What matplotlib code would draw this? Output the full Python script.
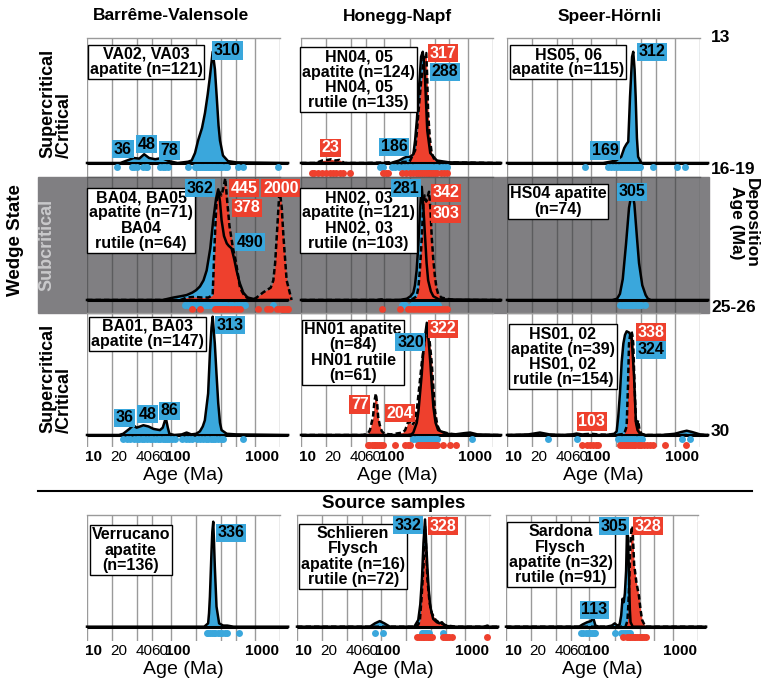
import matplotlib
matplotlib.use("Agg")
import matplotlib.pyplot as plt
import matplotlib.ticker as mticker
import matplotlib.transforms as mtransforms
from matplotlib.patches import Rectangle
from matplotlib.lines import Line2D

plt.rcParams['font.family'] = ['Liberation Sans', 'DejaVu Sans']

# ---------------- data ----------------
# ages in Ma, densities scaled so the panel top is 1.0

# Barreme-Valensole, VA02/VA03 apatite
va_ap_age = [10, 25, 30, 36, 42, 48, 55, 65, 78, 95, 120, 160, 177, 194, 211, 235, 255, 275, 292, 315,
             335, 352, 370, 385, 418, 480, 600, 2500]
va_ap_dens = [0, 0, 0.02, 0.04, 0.035, 0.07, 0.04, 0.03, 0.04, 0.015, 0, 0.01, 0.02, 0.08, 0.18, 0.28,
              0.4, 0.55, 0.69, 0.89, 0.75, 0.53, 0.3, 0.18, 0.06, 0.015, 0.005, 0]
va_ap_grains = [22.6, 34, 36, 39, 47, 50, 52, 74, 80, 86, 93, 161, 194, 205, 215, 225, 235, 245, 255, 265,
                275, 285, 295, 305, 315, 325, 335, 350, 370, 390, 410, 440, 462, 636, 730, 1905]
va_peaks = [('36', 'ap'), ('48', 'ap'), ('78', 'ap'), ('310', 'ap')]

# Honegg-Napf, HN04/05
hn45_ap_age = [10, 120, 150, 170, 186, 205, 222, 233, 245, 255, 275, 288, 298, 307, 326, 354, 424, 600, 2500]
hn45_ap_dens = [0, 0, 0.02, 0.04, 0.05, 0.05, 0.07, 0.18, 0.35, 0.53, 0.85, 0.89, 0.8, 0.66, 0.26, 0.08,
                0.02, 0.005, 0]
hn45_ru_age = [10, 15, 18, 21, 23, 26, 29, 33, 60, 200, 233, 245, 255, 275, 295, 307, 317, 325, 334, 350,
               368, 400, 500, 2500]
hn45_ru_dens = [0, 0, 0.02, 0.025, 0.03, 0.02, 0.025, 0, 0, 0.01, 0.1, 0.25, 0.4, 0.65, 0.82, 0.87, 0.88,
                0.7, 0.4, 0.2, 0.08, 0.02, 0.005, 0]
hn45_ap_grains = [88, 96, 122, 135, 150, 165, 180, 195, 210, 225, 240, 255, 270, 285, 300, 315, 330, 350,
                  375, 400, 430, 470, 520, 558]
hn45_ru_grains = [13.4, 14.5, 16, 17.7, 20, 22, 24, 26.5, 29, 32, 38.7, 96, 104, 111, 161, 180, 200, 220,
                  240, 255, 270, 285, 300, 315, 330, 345, 360, 380, 400, 430, 470, 520, 558]
hn45_peaks = [('317', 'ru'), ('288', 'ap'), ('23', 'ru'), ('186', 'ap')]

# Speer-Hoernli, HS05/06
hs56_ap_age = [10, 140, 169, 200, 230, 250, 265, 279, 293, 310, 320, 332, 342, 354, 366, 400, 2500]
hs56_ap_dens = [0, 0, 0.01, 0.02, 0.05, 0.12, 0.15, 0.17, 0.53, 0.85, 0.89, 0.75, 0.53, 0.2, 0.05, 0, 0]
hs56_ap_grains = [85, 161, 175, 190, 205, 220, 235, 250, 265, 280, 295, 310, 325, 340, 355, 370, 385,
                  555, 1053, 1324]
hs56_peaks = [('312', 'ap'), ('169', 'ap')]

# Barreme-Valensole, BA04/05
ba45_ap_age = [10, 80, 107, 130, 154, 180, 200, 222, 245, 267, 295, 320, 345, 367, 385, 402, 430, 464,
               490, 529, 570, 607, 660, 730, 820, 950, 1100, 2500]
ba45_ap_dens = [0, 0, 0.02, 0.03, 0.04, 0.06, 0.08, 0.11, 0.16, 0.24, 0.42, 0.65, 0.82, 0.9, 0.8, 0.65,
                0.52, 0.46, 0.44, 0.42, 0.33, 0.24, 0.14, 0.06, 0.02, 0.01, 0, 0]
ba45_ru_age = [10, 130, 154, 190, 236, 280, 315, 334, 350, 365, 378, 400, 420, 445, 470, 500, 550, 600,
               667, 730, 800, 900, 1000, 1100, 1250, 1387, 1550, 1666, 1750, 1831, 1956, 2000, 2100, 2197,
               2400, 2750]
ba45_ru_dens = [0, 0, 0.02, 0.025, 0.02, 0.02, 0.04, 0.5, 0.8, 0.85, 0.88, 0.85, 0.9, 0.99, 0.8, 0.6,
                0.42, 0.3, 0.1, 0.05, 0.02, 0.01, 0.01, 0.03, 0.06, 0.08, 0.1, 0.16, 0.3, 0.52, 0.85, 0.87,
                0.75, 0.52, 0.16, 0]
ba45_ap_grains = [147, 160, 175, 190, 205, 220, 235, 250, 265, 280, 300, 320, 340, 360, 380, 400, 430,
                  460, 500, 540, 590, 650, 700, 760, 1666]
ba45_ru_grains = [177, 222, 334, 350, 370, 390, 410, 430, 450, 480, 520, 560, 610, 667, 1102, 1387, 1527,
                  1831, 1950, 2100, 2250, 2400, 2510]
ba45_peaks = [('362', 'ap'), ('445', 'ru'), ('378', 'ru'), ('2000', 'ru'), ('490', 'ap')]

# Honegg-Napf, HN02/03
hn23_ap_age = [10, 150, 185, 205, 222, 232, 243, 255, 268, 280, 293, 307, 320, 334, 360, 386, 450, 2500]
hn23_ap_dens = [0, 0, 0.01, 0.03, 0.06, 0.12, 0.24, 0.45, 0.75, 0.92, 0.75, 0.51, 0.3, 0.16, 0.07, 0.03,
                0.005, 0]
hn23_ru_age = [10, 80, 92, 100, 150, 220, 243, 255, 266, 280, 292, 303, 317, 330, 342, 355, 369, 385, 403,
               420, 440, 480, 557, 700, 2500]
hn23_ru_dens = [0, 0, 0.005, 0, 0, 0.01, 0.03, 0.1, 0.24, 0.5, 0.78, 0.85, 0.8, 0.84, 0.88, 0.75, 0.51,
                0.33, 0.19, 0.1, 0.05, 0.02, 0.01, 0, 0]
hn23_ap_grains = [161, 170, 177, 213, 225, 240, 255, 270, 285, 300, 315, 330, 350, 370, 395, 420, 440]
hn23_ru_grains = [92.8, 154, 193, 205, 220, 235, 250, 265, 280, 295, 310, 325, 340, 360, 380, 400, 425,
                  450, 480, 520, 558]
hn23_peaks = [('281', 'ap'), ('342', 'ru'), ('303', 'ru')]

# Speer-Hoernli, HS04
hs4_ap_age = [10, 180, 205, 222, 240, 262, 285, 309, 330, 355, 375, 410, 450, 479, 520, 2500]
hs4_ap_dens = [0, 0, 0.01, 0.05, 0.17, 0.45, 0.75, 0.88, 0.78, 0.5, 0.3, 0.12, 0.04, 0.01, 0, 0]
hs4_ap_grains = [222, 240, 255, 270, 285, 300, 315, 330, 350, 370, 400, 440]
hs4_peaks = [('305', 'ap')]

# Barreme-Valensole, BA01/03
ba13_ap_age = [10, 24, 27, 32, 35.7, 39, 43, 47, 54, 62, 74, 80, 87, 92, 96, 110, 135, 154, 175, 200, 222,
               240, 254, 278, 292, 305, 315, 334, 350, 367, 385, 402, 464, 600, 2500]
ba13_ap_dens = [0, 0, 0.01, 0.05, 0.08, 0.06, 0.07, 0.08, 0.07, 0.05, 0.04, 0.06, 0.14, 0.06, 0.01, 0,
                0.005, 0.02, 0.005, 0.01, 0.03, 0.07, 0.12, 0.34, 0.67, 0.88, 0.97, 0.75, 0.5, 0.26, 0.1,
                0.04, 0.01, 0.005, 0]
ba13_ap_grains = [27, 30, 33, 36, 39, 42, 45, 48, 52, 56, 60, 65, 70, 75, 80, 85, 90, 96, 104, 112, 134,
                  150, 165, 177, 203, 220, 240, 260, 280, 300, 320, 340, 365, 395, 423, 730]
ba13_peaks = [('313', 'ap'), ('36', 'ap'), ('48', 'ap'), ('86', 'ap')]

# Honegg-Napf, HN01
hn1_ap_age = [10, 190, 210, 222, 244, 256, 267, 280, 292, 308, 322, 338, 355, 370, 386, 410, 440, 557,
              700, 900, 1063, 1300, 2500]
hn1_ap_dens = [0, 0, 0.005, 0.02, 0.1, 0.2, 0.34, 0.5, 0.68, 0.82, 0.92, 0.78, 0.59, 0.4, 0.23, 0.1, 0.04,
               0.01, 0.005, 0.015, 0.02, 0.005, 0]
hn1_ru_age = [10, 55, 63, 67, 73, 76, 79, 82, 84, 88, 93, 100, 120, 165, 177, 193, 204, 213, 225, 244,
              262, 280, 307, 322, 334, 350, 369, 385, 403, 430, 465, 610, 900, 2500]
hn1_ru_dens = [0, 0, 0.01, 0.04, 0.15, 0.28, 0.34, 0.25, 0.15, 0.08, 0.03, 0.01, 0.005, 0.02, 0.04, 0.11,
               0.1, 0.08, 0.1, 0.2, 0.4, 0.59, 0.8, 0.86, 0.87, 0.75, 0.59, 0.4, 0.2, 0.08, 0.03, 0.01, 0, 0]
hn1_ap_grains = [222, 240, 255, 270, 285, 300, 315, 330, 345, 360, 380, 400, 424, 1113]
hn1_ru_grains = [63, 66, 70, 74, 78, 82, 86, 90, 97, 134, 177, 190, 202, 255, 270, 285, 300, 315, 330,
                 345, 365, 385, 405, 424, 509, 610, 730]
hn1_peaks = [('322', 'ru'), ('320', 'ap'), ('77', 'ru'), ('204', 'ru')]

# Speer-Hoernli, HS01/02
hs12_ap_age = [10, 18, 24.7, 32, 45, 60, 67.6, 78, 100, 150, 190, 203, 212, 222, 233, 244, 255, 267, 285,
               305, 316, 327, 336, 345, 360, 385, 450, 700, 1000, 1200, 1387, 1600, 2000, 2500]
hs12_ap_dens = [0, 0.005, 0.02, 0.005, 0, 0.005, 0.012, 0.005, 0, 0, 0.01, 0.03, 0.15, 0.34, 0.6, 0.75,
                0.82, 0.85, 0.84, 0.81, 0.65, 0.48, 0.28, 0.1, 0.04, 0.01, 0, 0, 0.01, 0.025, 0.035, 0.025,
                0.005, 0]
hs12_ru_age = [10, 60, 78, 100, 120, 200, 250, 267, 277, 285, 295, 305, 312, 320, 330, 345, 355, 366, 380,
               402, 450, 2500]
hs12_ru_dens = [0, 0, 0.005, 0.01, 0.005, 0, 0.01, 0.07, 0.4, 0.75, 0.83, 0.85, 0.82, 0.75, 0.45, 0.1,
                0.08, 0.12, 0.04, 0.01, 0, 0]
hs12_ap_grains = [31, 67.6, 213, 225, 240, 255, 270, 285, 300, 320, 340, 360, 380, 402, 1212, 1513]
hs12_ru_grains = [77.6, 89, 97, 105, 114, 123, 222, 235, 250, 265, 280, 295, 310, 325, 340, 360, 380, 400,
                  430, 470, 510, 555, 766, 1370]
hs12_peaks = [('338', 'ru'), ('324', 'ap'), ('103', 'ru')]

# Source samples
ver_ap_age = [10, 250, 278, 285, 292, 305, 312, 320, 327, 334, 350, 376, 420, 470, 560, 2500]
ver_ap_dens = [0, 0, 0.03, 0.12, 0.27, 0.67, 0.85, 0.94, 0.75, 0.54, 0.18, 0.03, 0.01, 0.01, 0, 0]
ver_ap_grains = [267, 280, 295, 310, 325, 340, 360, 385, 410, 440, 462, 655]
ver_peaks = [('336', 'ap')]

sch_ap_age = [10, 65, 74, 85, 97, 110, 128, 150, 250, 279, 295, 309, 322, 336, 347, 358, 372, 388, 420,
              464, 500, 534, 580, 700, 2500]
sch_ap_dens = [0, 0, 0, 0.03, 0.05, 0.03, 0, 0, 0, 0.06, 0.2, 0.43, 0.75, 0.96, 0.75, 0.54, 0.33, 0.18,
               0.07, 0.04, 0.03, 0.04, 0.01, 0, 0]
sch_ru_age = [10, 260, 280, 292, 305, 322, 336, 347, 358, 380, 405, 450, 510, 612, 800, 1700, 1860, 2000, 2500]
sch_ru_dens = [0, 0, 0.02, 0.06, 0.25, 0.54, 0.9, 0.7, 0.43, 0.22, 0.12, 0.06, 0.03, 0.01, 0, 0, 0.01, 0, 0]
sch_ap_grains = [85.5, 105.6, 309, 320, 332, 345, 358, 370, 550]
sch_ru_grains = [270, 285, 300, 315, 330, 345, 360, 375, 390, 405, 557, 585, 615, 650, 700, 1850]
sch_peaks = [('332', 'ap'), ('328', 'ru')]

sar_ap_age = [10, 75, 82.7, 94, 104, 111, 118, 130, 160, 185, 201, 215, 230, 240, 249, 258, 266, 275,
              282, 290, 296, 300, 305, 311, 330, 2500]
sar_ap_dens = [0, 0, 0.02, 0.04, 0.05, 0.08, 0.01, 0, 0, 0.01, 0.03, 0.01, 0.02, 0.1, 0.25, 0.22, 0.3,
               0.5, 0.87, 0.8, 0.55, 0.35, 0.15, 0.04, 0, 0]
sar_ru_age = [10, 270, 285, 293, 300, 310, 319, 328, 343, 365, 393, 410, 428, 468, 2500]
sar_ru_dens = [0, 0, 0.05, 0.2, 0.4, 0.75, 0.88, 0.9, 0.56, 0.4, 0.27, 0.15, 0.06, 0, 0]
sar_ap_grains = [79, 84, 90, 96, 102, 108, 113, 118, 201, 236, 250, 265, 280, 295, 310]
sar_ru_grains = [252, 282, 295, 310, 325, 340, 355, 370, 390, 410, 430, 450, 470]
sar_peaks = [('305', 'ap'), ('328', 'ru'), ('113', 'ap')]

grid_ages = [10, 20, 40, 60, 100, 200, 400, 600, 1000, 2000]
tick_ages = [10, 20, 40, 60, 100, 1000]
tick_text = ['10', '20', '40', '60', '100', '1000']

# ---------------- layout ----------------
W, H = 765, 682
BLUE = '#3aa7dc'
RED = '#ee402d'
BAND = '#807f82'

fig = plt.figure(figsize=(W / 100, H / 100), dpi=100)

# rows: top px, bottom px, baseline px, blue dot px, red dot px
rows = [(38, 177, 163, 167, 173), (177, 313, 300, 305, 309),
        (313, 447, 435, 439, 444.5), (515, 641, 626.7, 632.7, 637.3)]
cols_top = [(87, 280), (301, 493), (507, 700)]
cols_bot = [(87, 280), (297, 490), (506, 698)]

# gray band for the subcritical row (behind the axes)
fig.patches.append(Rectangle((38 / W, 1 - 313 / H), (709 - 38) / W, (313 - 177) / H,
                             transform=fig.transFigure, color=BAND, zorder=-10))

panels = [
    dict(r=0, c=0, ap=(va_ap_age, va_ap_dens), ru=None, apg=va_ap_grains, rug=None,
         info='VA02, VA03\napatite (n=121)', ipos=(0.306, 0.827),
         peaks=va_peaks, ppos=[(26.9, 0.11), (50.9, 0.15), (96.7, 0.10), (473, 0.9)]),
    dict(r=0, c=1, ap=(hn45_ap_age, hn45_ap_dens), ru=(hn45_ru_age, hn45_ru_dens),
         apg=hn45_ap_grains, rug=hn45_ru_grains,
         info='HN04, 05\napatite (n=124)\nHN04, 05\nrutile (n=135)', ipos=(0.30, 0.70),
         peaks=hn45_peaks, ppos=[(508, 0.88), (533, 0.73), (22.8, 0.12), (130, 0.13)]),
    dict(r=0, c=2, ap=(hs56_ap_age, hs56_ap_dens), ru=None, apg=hs56_ap_grains, rug=None,
         info='HS05, 06\napatite (n=115)', ipos=(0.318, 0.825),
         peaks=hs56_peaks, ppos=[(530, 0.89), (148, 0.10)]),
    dict(r=1, c=0, ap=(ba45_ap_age, ba45_ap_dens), ru=(ba45_ru_age, ba45_ru_dens),
         apg=ba45_ap_grains, rug=ba45_ru_grains,
         info='BA04, BA05\napatite (n=71)\nBA04\nrutile (n=64)', ipos=(0.281, 0.68),
         peaks=ba45_peaks, ppos=[(222, 0.91), (743, 0.91), (800, 0.75), (2042, 0.91), (869, 0.47)]),
    dict(r=1, c=1, ap=(hn23_ap_age, hn23_ap_dens), ru=(hn23_ru_age, hn23_ru_dens),
         apg=hn23_ap_grains, rug=hn23_ru_grains,
         info='HN02, 03\napatite (n=121)\nHN02, 03\nrutile (n=103)', ipos=(0.30, 0.68),
         peaks=hn23_peaks, ppos=[(183, 0.91), (548, 0.87), (548, 0.70)]),
    dict(r=1, c=2, ap=(hs4_ap_age, hs4_ap_dens), ru=None, apg=hs4_ap_grains, rug=None,
         info='HS04 apatite\n(n=74)', ipos=(0.264, 0.82),
         peaks=hs4_peaks, ppos=[(313, 0.88)]),
    dict(r=2, c=0, ap=(ba13_ap_age, ba13_ap_dens), ru=None, apg=ba13_ap_grains, rug=None,
         info='BA01, BA03\napatite (n=147)', ipos=(0.315, 0.845),
         peaks=ba13_peaks, ppos=[(506, 0.9), (28.1, 0.14), (52.6, 0.17), (96.7, 0.2)]),
    dict(r=2, c=1, ap=(hn1_ap_age, hn1_ap_dens), ru=(hn1_ru_age, hn1_ru_dens),
         apg=hn1_ap_grains, rug=hn1_ru_grains,
         info='HN01 apatite\n(n=84)\nHN01 rutile\n(n=61)', ipos=(0.271, 0.705),
         peaks=hn1_peaks, ppos=[(508, 0.87), (205, 0.76), (50.6, 0.25), (154, 0.18)]),
    dict(r=2, c=2, ap=(hs12_ap_age, hs12_ap_dens), ru=(hs12_ru_age, hs12_ru_dens),
         apg=hs12_ap_grains, rug=hs12_ru_grains,
         info='HS01, 02\napatite (n=39)\nHS01, 02\nrutile (n=154)', ipos=(0.289, 0.674),
         peaks=hs12_peaks, ppos=[(520, 0.84), (520, 0.70), (102, 0.11)]),
    dict(r=3, c=0, ap=(ver_ap_age, ver_ap_dens), ru=None, apg=ver_ap_grains, rug=None,
         info='Verrucano\napatite\n(n=136)', ipos=(0.227, 0.722),
         peaks=ver_peaks, ppos=[(520, 0.84)]),
    dict(r=3, c=1, ap=(sch_ap_age, sch_ap_dens), ru=(sch_ru_age, sch_ru_dens),
         apg=sch_ap_grains, rug=sch_ru_grains,
         info='Schlieren\nFlysch\napatite (n=16)\nrutile (n=72)', ipos=(0.291, 0.671),
         peaks=sch_peaks, ppos=[(209, 0.91), (547, 0.9)]),
    dict(r=3, c=2, ap=(sar_ap_age, sar_ap_dens), ru=(sar_ru_age, sar_ru_dens),
         apg=sar_ap_grains, rug=sar_ru_grains,
         info='Sardona\nFlysch\napatite (n=32)\nrutile (n=91)', ipos=(0.285, 0.685),
         peaks=sar_peaks, ppos=[(197, 0.9), (504, 0.9), (115, 0.15)]),
]

for p in panels:
    top, bot, base, yb, yr = rows[p['r']]
    x0, x1 = (cols_bot if p['r'] == 3 else cols_top)[p['c']]
    ax = fig.add_axes([x0 / W, 1 - bot / H, (x1 - x0) / W, (bot - top) / H])
    span = base - top
    ax.set_xscale('log')
    ax.set_xlim(10, 2000)
    ax.set_ylim(-(bot - base) / span, 1)
    ax.patch.set_visible(False)
    gray_row = p['r'] == 1
    gcol = '#5c5c5e' if gray_row else '#9a9a9a'
    for s in ['left', 'right', 'bottom']:
        ax.spines[s].set_visible(False)
    ax.spines['top'].set_color(gcol)
    ax.spines['top'].set_linewidth(1.0)
    for g in grid_ages:
        ax.axvline(g, color=gcol, lw=1.0, zorder=0)
    ax.set_yticks([])
    ax.xaxis.set_minor_locator(mticker.NullLocator())
    if p['r'] >= 2:
        ax.set_xticks(tick_ages, tick_text)
        ax.tick_params(axis='x', length=0, pad=2, labelsize=11)
        for lab, t in zip(ax.get_xticklabels(), tick_ages):
            if t in (10, 100, 1000):
                lab.set_fontweight('bold')
            lab.set_transform(lab.get_transform() +
                              mtransforms.ScaledTranslation(0.07, 0, fig.dpi_scale_trans))
        ax.set_xlabel('Age (Ma)', fontsize=14, labelpad=2)
    else:
        ax.set_xticks([])

    # density curves
    ax.fill_between(p['ap'][0], 0, p['ap'][1], color=BLUE, lw=0, zorder=2, clip_on=False)
    if p['ru']:
        ax.fill_between(p['ru'][0], 0, p['ru'][1], color=RED, lw=0, zorder=3, clip_on=False)
    ax.plot([10, 2500], [0, 0], color='black', lw=2.2, zorder=4, clip_on=False,
            solid_capstyle='butt')
    ax.plot(p['ap'][0], p['ap'][1], color='black', lw=1.8, zorder=5, clip_on=False)
    if p['ru']:
        ax.plot(p['ru'][0], p['ru'][1], color='black', lw=1.8, ls=(0, (2.2, 1.2)), zorder=6,
                clip_on=False)

    # individual grain ages
    dot_b = -(yb - base) / span
    dot_r = -(yr - base) / span
    ax.plot(p['apg'], [dot_b] * len(p['apg']), 'o', ms=5, color=BLUE, mec='none', zorder=7,
            clip_on=False)
    if p['rug']:
        ax.plot(p['rug'], [dot_r] * len(p['rug']), 'o', ms=5, color=RED, mec='none', zorder=7,
                clip_on=False)

    # sample info box, then the peak labels drawn over it
    ax.text(p['ipos'][0], p['ipos'][1], p['info'], transform=ax.transAxes, ha='center',
            va='center', fontsize=11.5, fontweight='bold', linespacing=1.02, zorder=9,
            bbox=dict(boxstyle='square,pad=0.12', fc='white', ec='black', lw=1))
    for (txt, mineral), (px, py) in zip(p['peaks'], p['ppos']):
        fc = BLUE if mineral == 'ap' else RED
        tc = 'black' if mineral == 'ap' else 'white'
        ax.text(px, py, txt, ha='center', va='center', fontsize=11.5, fontweight='bold', color=tc,
                zorder=10, bbox=dict(boxstyle='square,pad=0.1', fc=fc, ec='none'))


def ftext(x, y, s, **kw):
    fig.text(x / W, 1 - y / H, s, **kw)


# column titles
for x, s in [(171, 'Barrême-Valensole'), (397, 'Honegg-Napf'), (610, 'Speer-Hörnli')]:
    ftext(x, 16, s, ha='center', va='center', fontsize=12.5, fontweight='bold')

# left labels
ftext(56, 103, 'Supercritical\n/Critical', ha='center', va='center', rotation=90, fontsize=13,
      fontweight='bold', linespacing=1.0, multialignment='left')
ftext(56, 378, 'Supercritical\n/Critical', ha='center', va='center', rotation=90, fontsize=13,
      fontweight='bold', linespacing=1.0, multialignment='left')
ftext(47, 245, 'Subcritical', ha='center', va='center', rotation=90, fontsize=13,
      fontweight='bold', color='#c9c9cb')
ftext(16, 240, 'Wedge State', ha='center', va='center', rotation=90, fontsize=13.5,
      fontweight='bold')

# right labels: deposition ages
for y, s in [(38, '13'), (170, '16-19'), (307, '25-26'), (431, '30')]:
    ftext(711, y, s, ha='left', va='center', fontsize=12.5, fontweight='bold')
ftext(744, 223, 'Deposition\nAge (Ma)', ha='center', va='center', rotation=-90, fontsize=12.5,
      fontweight='bold', linespacing=1.0)

# separator and source section title
fig.lines.append(Line2D([38 / W, 752 / W], [1 - 491 / H, 1 - 491 / H], transform=fig.transFigure,
                        color='black', lw=1.5))
ftext(394, 504, 'Source samples', ha='center', va='center', fontsize=13.5, fontweight='bold')

fig.savefig('out.png', dpi=100)
